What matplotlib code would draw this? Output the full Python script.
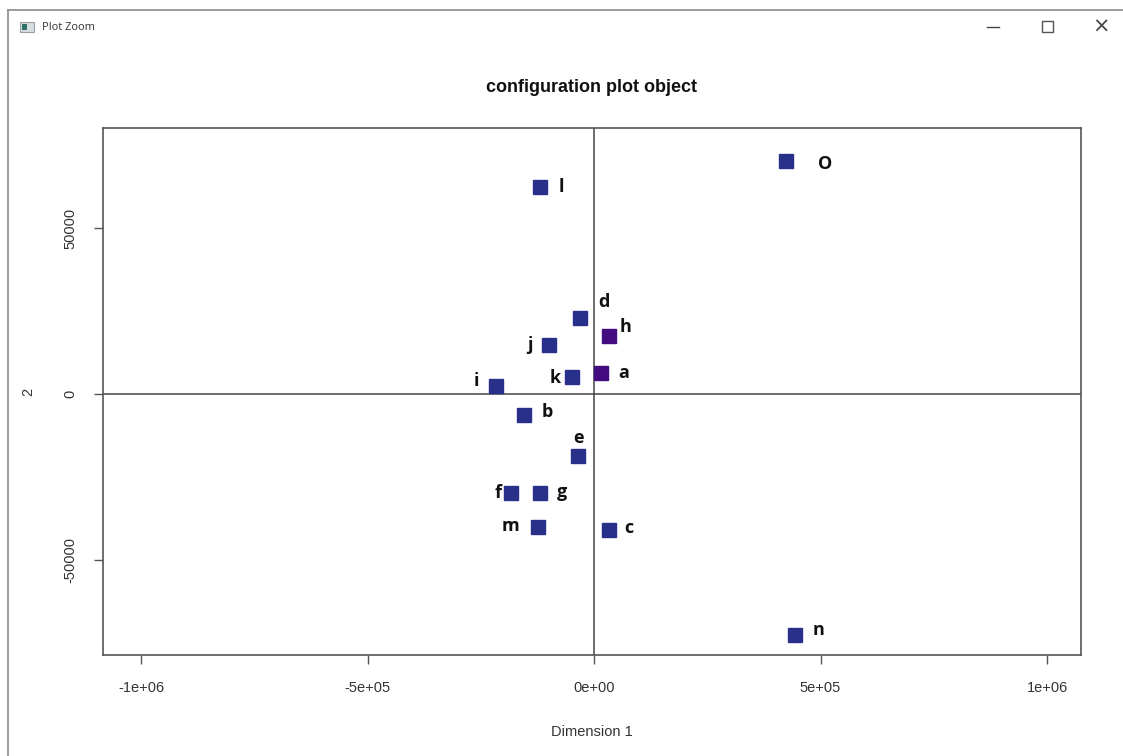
import matplotlib.pyplot as plt
from matplotlib.lines import Line2D
from matplotlib.patches import Rectangle

# configuration coordinates
labels = ["l", "O", "d", "h", "j", "k", "a", "i", "b", "e", "f", "g", "m", "c", "n"]
dim1 = [-119000, 424000, -31000, 33000, -99000, -49000, 15500, -216000, -155000,
        -35000, -183000, -119000, -124000, 33000, 444000]
dim2 = [62500, 70400, 22900, 17500, 14800, 5100, 6300, 2400, -6300,
        -18700, -29900, -29900, -40200, -41100, -72800]
groups = ["a", "a", "a", "b", "a", "a", "b", "a", "a", "a", "a", "a", "a", "a", "a"]
# label offsets in pixels (dx, dy)
offsets = [(21, 0), (39, -3), (24, 16), (17, 9), (-19, 0), (-17, -1), (23, 0),
           (-20, 5), (23, 3), (0, 18), (-13, 0), (22, 1), (-27, 1), (20, 2), (23, 5)]

colors = {"a": "#29308a", "b": "#430c80"}

fig = plt.figure(figsize=(11.23, 7.56), dpi=100)

# window chrome
fig.add_artist(Line2D([8 / 1123, 1], [1 - 10 / 756, 1 - 10 / 756], color="#8a8a8a", lw=1.2,
                      transform=fig.transFigure))
fig.add_artist(Line2D([8 / 1123, 8 / 1123], [0, 1 - 10 / 756], color="#8a8a8a", lw=1.2,
                      transform=fig.transFigure))
fig.add_artist(Rectangle((20 / 1123, 1 - 32 / 756), 14 / 1123, 10 / 756, facecolor="#d8dde0",
                         edgecolor="#9aa0a6", lw=0.8, transform=fig.transFigure))
fig.add_artist(Rectangle((22 / 1123, 1 - 30 / 756), 5 / 1123, 6 / 756, facecolor="#2f6e6a",
                         edgecolor="none", transform=fig.transFigure))
fig.text(42 / 1123, 1 - 27 / 756, "Plot Zoom", fontsize=8, family="Open Sans",
         color="#333333", va="center", ha="left")
fig.add_artist(Line2D([987 / 1123, 999 / 1123], [1 - 27 / 756, 1 - 27 / 756], color="#444444",
                      lw=1.0, transform=fig.transFigure))
fig.add_artist(Rectangle((1042 / 1123, 1 - 32 / 756), 11 / 1123, 11 / 756, facecolor="none",
                         edgecolor="#555555", lw=1.0, transform=fig.transFigure))
fig.text(1101 / 1123, 1 - 27 / 756, "\u00d7", fontsize=15, color="#444444", ha="center", va="center")

ax = fig.add_axes([103 / 1123, 1 - 655 / 756, 978 / 1123, 527 / 756])
ax.set_xlim(-1.084e6, 1.075e6)
ax.set_ylim(-78800, 80300)

ax.axhline(0, color="#444444", lw=1.1, zorder=1)
ax.axvline(0, color="#444444", lw=1.1, zorder=1)

for x, y, g in zip(dim1, dim2, groups):
    ax.plot(x, y, marker="s", ms=10, color=colors[g], mec=colors[g], ls="none", zorder=3)

for x, y, lab, (dx, dy) in zip(dim1, dim2, labels, offsets):
    ax.annotate(lab, (x, y), xytext=(dx * 0.72, dy * 0.72), textcoords="offset points",
                ha="center", va="center", fontsize=13, fontweight="bold",
                family="Open Sans", color="#111111", zorder=4)

ax.set_xticks([-1e6, -5e5, 0, 5e5, 1e6])
ax.set_xticklabels(["-1e+06", "-5e+05", "0e+00", "5e+05", "1e+06"])
ax.set_yticks([-50000, 0, 50000])
ax.set_yticklabels(["-50000", "0", "50000"], rotation=90, va="center")

for s in ax.spines.values():
    s.set_color("#555555")
    s.set_linewidth(1.2)
ax.tick_params(direction="out", length=6.5, width=1, color="#555555", pad=12,
               labelsize=10.5, labelcolor="#333333")
for t in ax.get_xticklabels() + ax.get_yticklabels():
    t.set_family("Liberation Sans")

ax.set_title("configuration plot object", fontsize=13, fontweight="bold",
             family="Liberation Sans", color="#111111", pad=26)
ax.set_xlabel("Dimension 1", fontsize=10.5, family="Liberation Sans", color="#333333", labelpad=22)
ax.set_ylabel("2", fontsize=10.5, family="Liberation Sans", color="#333333", labelpad=20)

fig.savefig("out.png", dpi=100)
